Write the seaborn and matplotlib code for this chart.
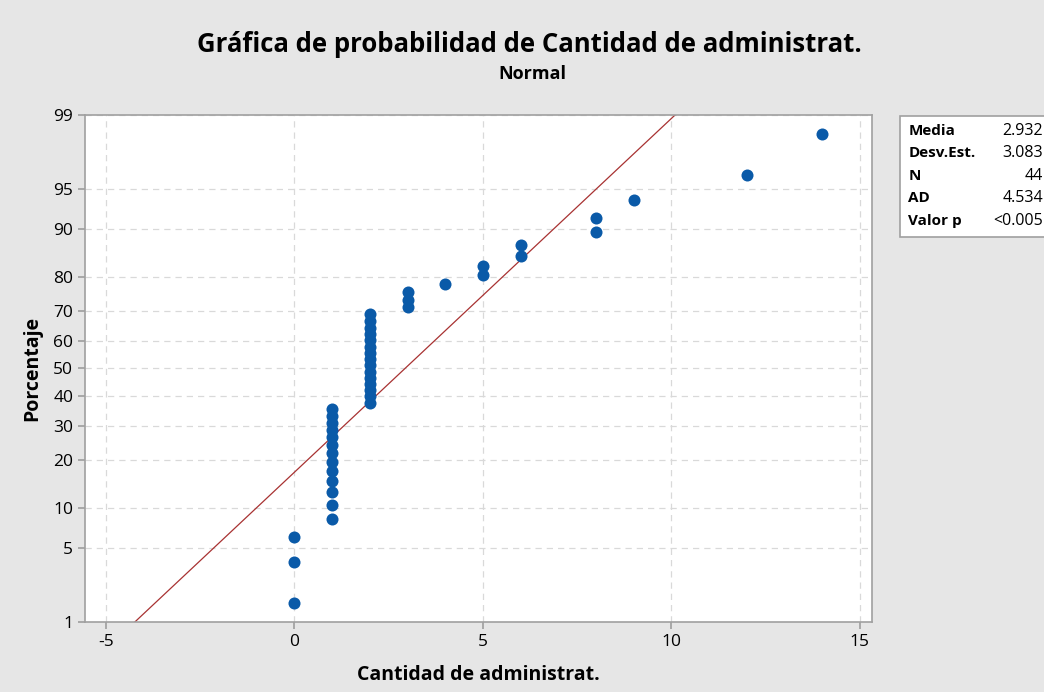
import numpy as np
import pandas as pd
import matplotlib
matplotlib.use("Agg")
import matplotlib.pyplot as plt
import seaborn as sns
from statistics import NormalDist

# ---- data ----
values = [0, 1, 2, 3, 4, 5, 6, 8, 9, 12, 14]
counts = [3, 13, 15, 3, 1, 2, 2, 2, 1, 1, 1]
pct_ticks = [1, 5, 10, 20, 30, 40, 50, 60, 70, 80, 90, 95, 99]
x_ticks = [-5, 0, 5, 10, 15]
stat_labels = ["Media", "Desv.Est.", "N", "AD", "Valor p"]
stat_values = ["2.932", "3.083", "44", "4.534", "<0.005"]
mean_v, sd_v = 2.932, 3.083

nd = NormalDist()
data = np.repeat(values, counts).astype(float)
n = len(data)
ranks = np.arange(1, n + 1)
probs = (ranks - 0.3) / (n + 0.4)
df = pd.DataFrame({"x": np.sort(data), "z": [nd.inv_cdf(p) for p in probs]})

sns.set_theme(style="white")
plt.rcParams['font.family'] = ['Open Sans', 'DejaVu Sans']
plt.rcParams['text.color'] = 'black'
plt.rcParams['axes.labelcolor'] = 'black'

fig = plt.figure(figsize=(10.44, 6.92), dpi=100, facecolor="#e6e6e6")
ax = fig.add_axes([0.0814, 0.101, 0.7536, 0.733])
ax.set_facecolor("white")

xlim = (-5.56, 15.32)
# fitted line
xl = np.linspace(xlim[0], xlim[1], 200)
zl = (xl - mean_v) / sd_v
sns.lineplot(x=xl, y=zl, ax=ax, color="#a83232", linewidth=0.9)
sns.scatterplot(data=df, x="x", y="z", ax=ax, color="#0a5aa8", s=75,
                edgecolor="#0a5aa8", linewidth=0, zorder=5)

zt = [nd.inv_cdf(p / 100) for p in pct_ticks]
ax.set_yticks(zt)
ax.set_yticklabels([str(p) for p in pct_ticks])
ax.set_ylim(nd.inv_cdf(0.01), nd.inv_cdf(0.99))
ax.set_xticks(x_ticks)
ax.set_xticklabels([str(v) for v in x_ticks])
ax.set_xlim(*xlim)

ax.grid(True, color="#d9d9d9", linestyle=(0, (5, 4)), linewidth=0.9)
ax.set_axisbelow(True)
for s in ax.spines.values():
    s.set_color("#a0a0a0")
    s.set_linewidth(1.2)
ax.tick_params(axis="both", length=5, color="#a0a0a0", labelsize=12.5,
               bottom=True, left=True, labelcolor="black")

ax.set_xlabel("Cantidad de administrat.", fontsize=14, fontweight="bold", labelpad=11)
ax.set_ylabel("Porcentaje", fontsize=14, fontweight="bold", labelpad=8)

fig.text(0.507, 0.935, "Gráfica de probabilidad de Cantidad de administrat.",
         ha="center", va="center", fontsize=18.5, fontweight="bold")
fig.text(0.51, 0.893, "Normal", ha="center", va="center", fontsize=13, fontweight="bold")

# stats box
bx0, by0, bw, bh = 0.862, 0.657, 0.145, 0.176
fig.patches.append(plt.Rectangle((bx0, by0), bw, bh, transform=fig.transFigure,
                                 facecolor="white", edgecolor="#a0a0a0", linewidth=1.2))
for i, (lab, val) in enumerate(zip(stat_labels, stat_values)):
    yy = by0 + bh - 0.022 - i * 0.0325
    fig.text(bx0 + 0.008, yy, lab, ha="left", va="center", fontsize=11, fontweight="bold")
    fig.text(0.999, yy, val, ha="right", va="center", fontsize=11.5)

fig.savefig("out.png", dpi=100, facecolor=fig.get_facecolor())
